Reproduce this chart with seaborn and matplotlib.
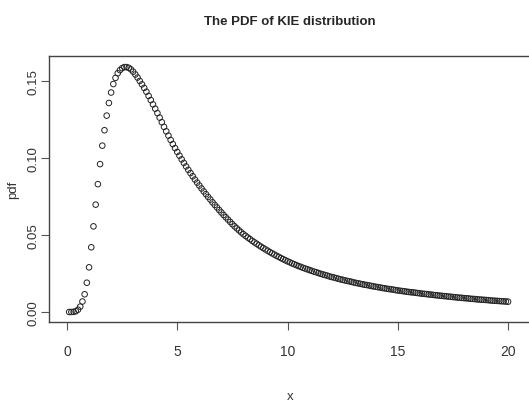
import numpy as np
import pandas as pd
import seaborn as sns
import matplotlib.pyplot as plt

# pdf values, x = 0.1, 0.2, ..., 20.0
pdf_vals = [
    0.0000, 0.0000, 0.0001, 0.0005, 0.0015, 0.0035, 0.0068, 0.0115, 0.0190, 0.0290,
    0.0420, 0.0556, 0.0697, 0.0830, 0.0960, 0.1080, 0.1180, 0.1275, 0.1357, 0.1425,
    0.1480, 0.1520, 0.1550, 0.1570, 0.1583, 0.1590, 0.1590, 0.1585, 0.1575, 0.1560,
    0.1542, 0.1522, 0.1500, 0.1478, 0.1455, 0.1430, 0.1403, 0.1376, 0.1348, 0.1320,
    0.1291, 0.1262, 0.1232, 0.1202, 0.1173, 0.1145, 0.1117, 0.1090, 0.1064, 0.1039,
    0.1015, 0.0991, 0.0968, 0.0945, 0.0923, 0.0902, 0.0881, 0.0860, 0.0840, 0.0821,
    0.0802, 0.0783, 0.0765, 0.0747, 0.0730, 0.0712, 0.0695, 0.0679, 0.0662, 0.0646,
    0.0630, 0.0615, 0.0600, 0.0585, 0.0570, 0.0556, 0.0543, 0.0530, 0.0517, 0.0505,
    0.0494, 0.0483, 0.0473, 0.0462, 0.0452, 0.0443, 0.0433, 0.0424, 0.0415, 0.0406,
    0.0398, 0.0389, 0.0381, 0.0373, 0.0365, 0.0358, 0.0350, 0.0343, 0.0336, 0.0329,
    0.0323, 0.0316, 0.0310, 0.0304, 0.0298, 0.0293, 0.0287, 0.0282, 0.0277, 0.0272,
    0.0267, 0.0262, 0.0258, 0.0253, 0.0248, 0.0244, 0.0240, 0.0236, 0.0231, 0.0227,
    0.0224, 0.0220, 0.0216, 0.0212, 0.0209, 0.0205, 0.0202, 0.0199, 0.0196, 0.0192,
    0.0189, 0.0186, 0.0183, 0.0180, 0.0177, 0.0175, 0.0172, 0.0169, 0.0166, 0.0164,
    0.0161, 0.0159, 0.0156, 0.0154, 0.0151, 0.0149, 0.0147, 0.0145, 0.0142, 0.0140,
    0.0138, 0.0136, 0.0134, 0.0132, 0.0130, 0.0128, 0.0127, 0.0125, 0.0123, 0.0121,
    0.0119, 0.0118, 0.0116, 0.0114, 0.0113, 0.0111, 0.0109, 0.0108, 0.0106, 0.0105,
    0.0103, 0.0102, 0.0100, 0.0099, 0.0097, 0.0096, 0.0094, 0.0093, 0.0092, 0.0090,
    0.0089, 0.0088, 0.0086, 0.0085, 0.0084, 0.0082, 0.0081, 0.0080, 0.0079, 0.0078,
    0.0077, 0.0075, 0.0074, 0.0073, 0.0072, 0.0071, 0.0070, 0.0069, 0.0068, 0.0067,
]
x_vals = np.round(np.arange(1, len(pdf_vals) + 1) * 0.1, 1)

x_ticks = [0, 5, 10, 15, 20]
y_ticks = [0.00, 0.05, 0.10, 0.15]
y_ticklabels = ["0.00", "0.05", "0.10", "0.15"]

df = pd.DataFrame({"x": x_vals, "pdf": pdf_vals})

sns.set_style("white")
plt.rcParams['font.family'] = ['Liberation Sans', 'DejaVu Sans']

W, H = 529, 402
fig = plt.figure(figsize=(W / 100, H / 100), dpi=100)
# plot box: left 49px, top 57px, bottom 323px, right just past the image edge
ax = fig.add_axes([49 / W, (H - 323) / H, (531 - 49) / W, (323 - 57) / H])

sns.scatterplot(data=df, x="x", y="pdf", ax=ax, marker="o", s=16,
                facecolors="none", edgecolor="#222222", linewidth=0.7)

ax.set_xlim(-0.816, 21.04)
ax.set_ylim(-0.0065, 0.1662)
ax.set_xticks(x_ticks)
ax.set_xticklabels([str(t) for t in x_ticks], fontsize=10, color="#333333")
ax.set_yticks(y_ticks)
ax.set_yticklabels(y_ticklabels, rotation=90, va="center", fontsize=9.5, color="#333333")
ax.tick_params(axis="both", direction="out", length=6, width=0.8, color="#555555",
               bottom=True, left=True)
ax.tick_params(axis="x", pad=10)
ax.tick_params(axis="y", pad=1)

for sp in ax.spines.values():
    sp.set_color("#444444")
    sp.set_linewidth(1.0)

ax.set_xlabel("x", fontsize=9.5, color="#333333")
ax.set_ylabel("pdf", fontsize=9.5, color="#333333")
ax.xaxis.set_label_coords(0.5, -0.256)
ax.yaxis.set_label_coords(-0.062, 0.5)

ax.set_title("The PDF of KIE distribution", fontsize=9.5, fontweight="bold",
             pad=23, x=(290 - 49) / (531 - 49))

fig.savefig("out.png", dpi=100)
